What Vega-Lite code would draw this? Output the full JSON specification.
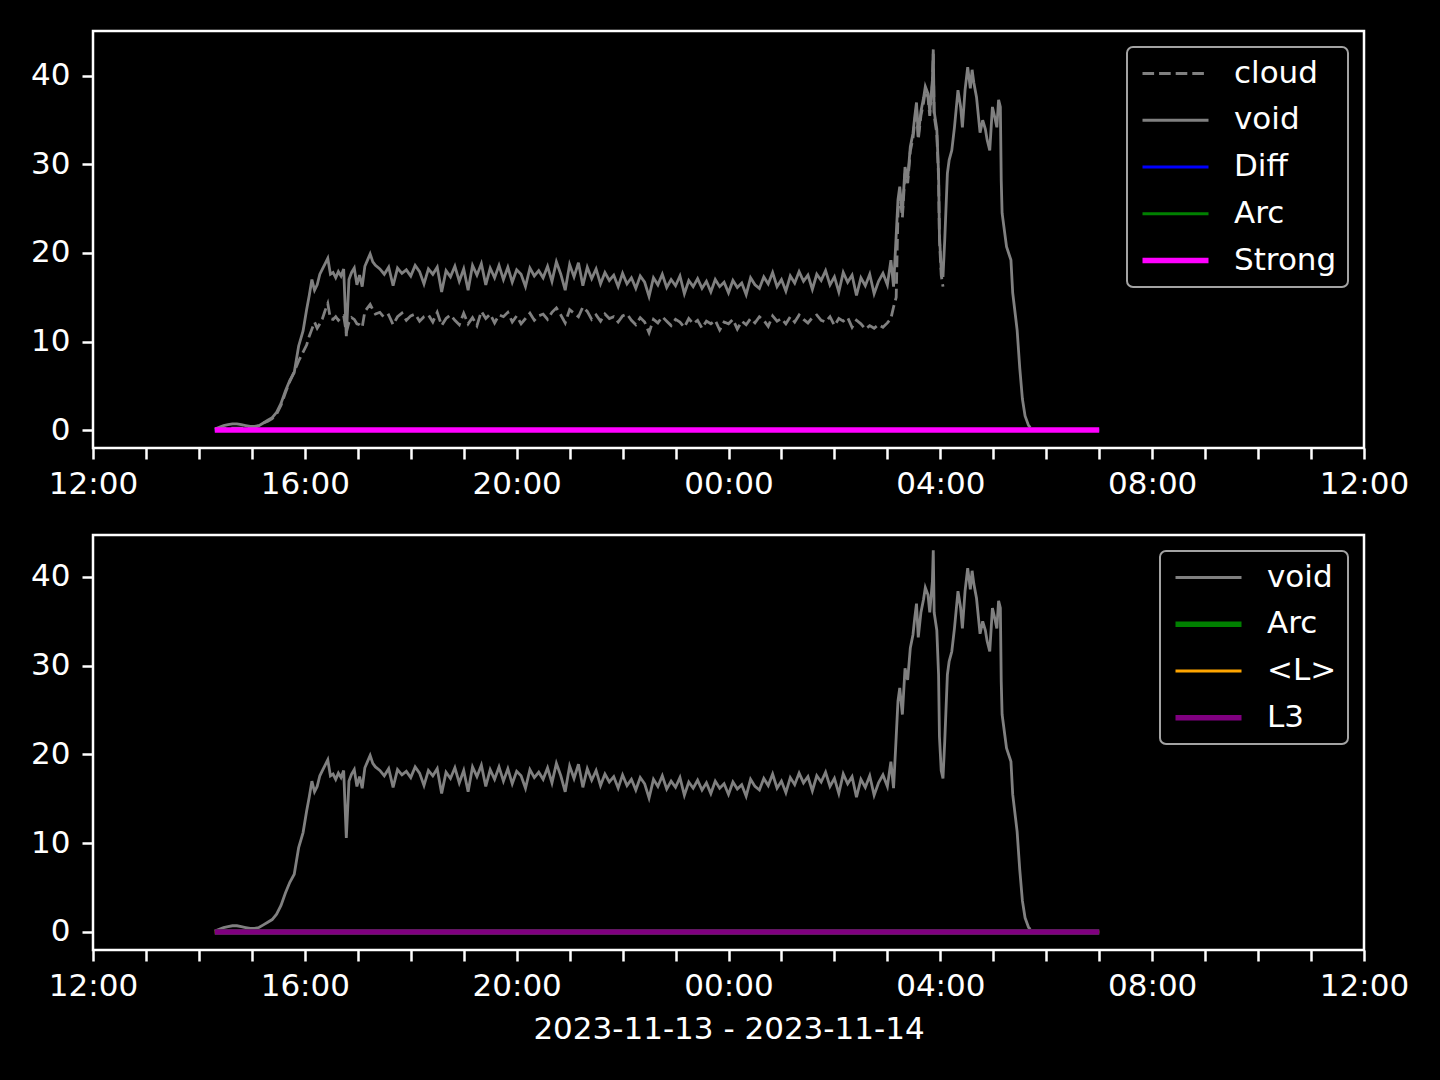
{
  "$schema": "https://vega.github.io/schema/vega-lite/v6.json",
  "background": "black",
  "padding": {"left": 29, "top": 29, "right": 40, "bottom": 45},
  "config": {
    "font": "DejaVu Sans",
    "view": {"stroke": "white", "strokeWidth": 2.5},
    "axis": {
      "domain": false, "grid": false,
      "labelColor": "white", "labelFont": "DejaVu Sans", "labelFontSize": 31,
      "tickColor": "white", "tickWidth": 2.5, "tickSize": 11, "labelPadding": 12,
      "titleColor": "white", "titleFont": "DejaVu Sans", "titleFontSize": 31, "titleFontWeight": "normal"
    },
    "legend": {
      "labelColor": "white", "labelFont": "DejaVu Sans", "labelFontSize": 31,
      "fillColor": "black", "strokeColor": "#a3a3a3", "cornerRadius": 6,
      "padding": 11, "rowPadding": 14.75, "labelOffset": 65,
      "symbolType": "M-1,0H5", "symbolSize": 484, "orient": "top-right", "offset": 16
    }
  },
  "datasets": {
    "main": [
      {"t":"2023-11-13T14:18","void":0.1,"cloud":0.05},
      {"t":"2023-11-13T14:23","void":0.3,"cloud":0.1},
      {"t":"2023-11-13T14:28","void":0.5,"cloud":0.15},
      {"t":"2023-11-13T14:33","void":0.6,"cloud":0.2},
      {"t":"2023-11-13T14:38","void":0.7,"cloud":0.2},
      {"t":"2023-11-13T14:43","void":0.7,"cloud":0.2},
      {"t":"2023-11-13T14:48","void":0.6,"cloud":0.2},
      {"t":"2023-11-13T14:53","void":0.5,"cloud":0.2},
      {"t":"2023-11-13T14:58","void":0.4,"cloud":0.2},
      {"t":"2023-11-13T15:03","void":0.4,"cloud":0.3},
      {"t":"2023-11-13T15:08","void":0.5,"cloud":0.5},
      {"t":"2023-11-13T15:13","void":0.8,"cloud":0.8},
      {"t":"2023-11-13T15:18","void":1.1,"cloud":1.0},
      {"t":"2023-11-13T15:23","void":1.4,"cloud":1.3},
      {"t":"2023-11-13T15:28","void":2.0,"cloud":1.8},
      {"t":"2023-11-13T15:33","void":3.0,"cloud":2.8},
      {"t":"2023-11-13T15:38","void":4.4,"cloud":4.2},
      {"t":"2023-11-13T15:43","void":5.6,"cloud":5.5},
      {"t":"2023-11-13T15:48","void":6.5,"cloud":6.6},
      {"t":"2023-11-13T15:53","void":9.5,"cloud":7.8},
      {"t":"2023-11-13T15:58","void":11.2,"cloud":8.8},
      {"t":"2023-11-13T16:02","void":13.6,"cloud":9.6},
      {"t":"2023-11-13T16:05","void":15.2,"cloud":10.6},
      {"t":"2023-11-13T16:08","void":17.0,"cloud":11.4},
      {"t":"2023-11-13T16:11","void":15.8,"cloud":12.2},
      {"t":"2023-11-13T16:14","void":16.4,"cloud":11.5},
      {"t":"2023-11-13T16:17","void":17.6,"cloud":12.0},
      {"t":"2023-11-13T16:20","void":18.2,"cloud":12.6},
      {"t":"2023-11-13T16:23","void":18.8,"cloud":13.5},
      {"t":"2023-11-13T16:26","void":19.4,"cloud":14.3},
      {"t":"2023-11-13T16:29","void":17.6,"cloud":12.6},
      {"t":"2023-11-13T16:32","void":17.8,"cloud":12.5},
      {"t":"2023-11-13T16:35","void":17.2,"cloud":12.8},
      {"t":"2023-11-13T16:38","void":17.9,"cloud":12.4},
      {"t":"2023-11-13T16:41","void":17.4,"cloud":12.7},
      {"t":"2023-11-13T16:44","void":18.2,"cloud":12.9},
      {"t":"2023-11-13T16:47","void":10.6,"cloud":11.0},
      {"t":"2023-11-13T16:50","void":17.0,"cloud":12.2},
      {"t":"2023-11-13T16:53","void":17.8,"cloud":12.7},
      {"t":"2023-11-13T16:56","void":18.3,"cloud":12.5},
      {"t":"2023-11-13T16:59","void":16.4,"cloud":12.0},
      {"t":"2023-11-13T17:02","void":17.5,"cloud":11.9},
      {"t":"2023-11-13T17:05","void":16.2,"cloud":11.6},
      {"t":"2023-11-13T17:08","void":18.5,"cloud":13.4},
      {"t":"2023-11-13T17:11","void":19.2,"cloud":13.8},
      {"t":"2023-11-13T17:14","void":19.9,"cloud":14.2},
      {"t":"2023-11-13T17:17","void":19.0,"cloud":13.6},
      {"t":"2023-11-13T17:20","void":18.6,"cloud":13.1},
      {"t":"2023-11-13T17:25","void":18.2,"cloud":13.3},
      {"t":"2023-11-13T17:30","void":17.6,"cloud":12.7},
      {"t":"2023-11-13T17:35","void":18.4,"cloud":13.0},
      {"t":"2023-11-13T17:40","void":16.3,"cloud":11.9},
      {"t":"2023-11-13T17:45","void":18.3,"cloud":12.8},
      {"t":"2023-11-13T17:50","void":17.7,"cloud":13.2},
      {"t":"2023-11-13T17:55","void":18.1,"cloud":12.4},
      {"t":"2023-11-13T18:00","void":17.4,"cloud":12.9},
      {"t":"2023-11-13T18:05","void":18.6,"cloud":13.1},
      {"t":"2023-11-13T18:10","void":17.9,"cloud":12.3},
      {"t":"2023-11-13T18:15","void":16.5,"cloud":12.8},
      {"t":"2023-11-13T18:20","void":18.2,"cloud":13.0},
      {"t":"2023-11-13T18:25","void":17.6,"cloud":12.2},
      {"t":"2023-11-13T18:30","void":18.4,"cloud":13.3},
      {"t":"2023-11-13T18:35","void":15.6,"cloud":11.8},
      {"t":"2023-11-13T18:40","void":18.0,"cloud":12.6},
      {"t":"2023-11-13T18:45","void":17.3,"cloud":13.0},
      {"t":"2023-11-13T18:50","void":18.5,"cloud":12.4},
      {"t":"2023-11-13T18:55","void":16.8,"cloud":11.9},
      {"t":"2023-11-13T19:00","void":18.2,"cloud":13.2},
      {"t":"2023-11-13T19:05","void":15.8,"cloud":12.0},
      {"t":"2023-11-13T19:10","void":18.6,"cloud":12.7},
      {"t":"2023-11-13T19:15","void":17.5,"cloud":11.8},
      {"t":"2023-11-13T19:20","void":18.8,"cloud":13.4},
      {"t":"2023-11-13T19:25","void":16.4,"cloud":12.6},
      {"t":"2023-11-13T19:30","void":18.3,"cloud":13.1},
      {"t":"2023-11-13T19:35","void":17.2,"cloud":12.1},
      {"t":"2023-11-13T19:40","void":18.6,"cloud":13.0},
      {"t":"2023-11-13T19:45","void":17.0,"cloud":12.8},
      {"t":"2023-11-13T19:50","void":18.4,"cloud":13.3},
      {"t":"2023-11-13T19:55","void":16.7,"cloud":12.2},
      {"t":"2023-11-13T20:00","void":18.1,"cloud":12.9},
      {"t":"2023-11-13T20:05","void":17.6,"cloud":12.0},
      {"t":"2023-11-13T20:10","void":16.2,"cloud":12.6},
      {"t":"2023-11-13T20:15","void":18.3,"cloud":13.2},
      {"t":"2023-11-13T20:20","void":17.4,"cloud":12.4},
      {"t":"2023-11-13T20:25","void":18.0,"cloud":12.9},
      {"t":"2023-11-13T20:30","void":17.2,"cloud":13.1},
      {"t":"2023-11-13T20:35","void":18.5,"cloud":12.5},
      {"t":"2023-11-13T20:40","void":16.8,"cloud":13.3},
      {"t":"2023-11-13T20:45","void":19.0,"cloud":13.8},
      {"t":"2023-11-13T20:50","void":17.6,"cloud":13.0},
      {"t":"2023-11-13T20:55","void":15.8,"cloud":12.1},
      {"t":"2023-11-13T21:00","void":18.7,"cloud":13.6},
      {"t":"2023-11-13T21:05","void":17.3,"cloud":13.2},
      {"t":"2023-11-13T21:10","void":18.9,"cloud":12.8},
      {"t":"2023-11-13T21:15","void":16.3,"cloud":13.9},
      {"t":"2023-11-13T21:20","void":18.4,"cloud":13.4},
      {"t":"2023-11-13T21:25","void":17.1,"cloud":12.5},
      {"t":"2023-11-13T21:30","void":18.2,"cloud":13.0},
      {"t":"2023-11-13T21:35","void":16.5,"cloud":12.3},
      {"t":"2023-11-13T21:40","void":17.8,"cloud":13.1},
      {"t":"2023-11-13T21:45","void":16.9,"cloud":12.6},
      {"t":"2023-11-13T21:50","void":17.5,"cloud":12.8},
      {"t":"2023-11-13T21:55","void":16.2,"cloud":12.2},
      {"t":"2023-11-13T22:00","void":17.7,"cloud":12.9},
      {"t":"2023-11-13T22:05","void":16.5,"cloud":13.1},
      {"t":"2023-11-13T22:10","void":17.2,"cloud":12.4},
      {"t":"2023-11-13T22:15","void":16.0,"cloud":11.9},
      {"t":"2023-11-13T22:20","void":17.4,"cloud":12.7},
      {"t":"2023-11-13T22:25","void":16.7,"cloud":12.2},
      {"t":"2023-11-13T22:30","void":15.1,"cloud":11.0},
      {"t":"2023-11-13T22:35","void":17.2,"cloud":12.5},
      {"t":"2023-11-13T22:40","void":16.4,"cloud":12.1},
      {"t":"2023-11-13T22:45","void":17.6,"cloud":12.8},
      {"t":"2023-11-13T22:50","void":16.1,"cloud":12.3},
      {"t":"2023-11-13T22:55","void":17.0,"cloud":11.8},
      {"t":"2023-11-13T23:00","void":16.3,"cloud":12.5},
      {"t":"2023-11-13T23:05","void":17.4,"cloud":12.2},
      {"t":"2023-11-13T23:10","void":15.4,"cloud":11.6},
      {"t":"2023-11-13T23:15","void":16.9,"cloud":12.6},
      {"t":"2023-11-13T23:20","void":16.2,"cloud":12.0},
      {"t":"2023-11-13T23:25","void":17.1,"cloud":12.4},
      {"t":"2023-11-13T23:30","void":16.0,"cloud":11.5},
      {"t":"2023-11-13T23:35","void":16.8,"cloud":12.3},
      {"t":"2023-11-13T23:40","void":15.6,"cloud":12.0},
      {"t":"2023-11-13T23:45","void":17.0,"cloud":12.4},
      {"t":"2023-11-13T23:50","void":16.2,"cloud":11.3},
      {"t":"2023-11-13T23:55","void":16.7,"cloud":12.2},
      {"t":"2023-11-14T00:00","void":15.5,"cloud":12.0},
      {"t":"2023-11-14T00:05","void":16.9,"cloud":12.5},
      {"t":"2023-11-14T00:10","void":16.1,"cloud":11.4},
      {"t":"2023-11-14T00:15","void":16.6,"cloud":12.3},
      {"t":"2023-11-14T00:20","void":15.3,"cloud":11.9},
      {"t":"2023-11-14T00:25","void":17.2,"cloud":12.6},
      {"t":"2023-11-14T00:30","void":16.4,"cloud":12.1},
      {"t":"2023-11-14T00:35","void":16.0,"cloud":12.8},
      {"t":"2023-11-14T00:40","void":17.3,"cloud":12.4},
      {"t":"2023-11-14T00:45","void":16.5,"cloud":11.7},
      {"t":"2023-11-14T00:50","void":17.8,"cloud":12.9},
      {"t":"2023-11-14T00:55","void":16.2,"cloud":12.3},
      {"t":"2023-11-14T01:00","void":17.0,"cloud":12.6},
      {"t":"2023-11-14T01:05","void":15.7,"cloud":12.0},
      {"t":"2023-11-14T01:10","void":17.4,"cloud":12.8},
      {"t":"2023-11-14T01:15","void":16.6,"cloud":12.2},
      {"t":"2023-11-14T01:20","void":17.9,"cloud":13.0},
      {"t":"2023-11-14T01:25","void":16.8,"cloud":12.5},
      {"t":"2023-11-14T01:30","void":17.5,"cloud":12.1},
      {"t":"2023-11-14T01:35","void":15.9,"cloud":12.7},
      {"t":"2023-11-14T01:40","void":17.6,"cloud":13.0},
      {"t":"2023-11-14T01:45","void":16.9,"cloud":12.4},
      {"t":"2023-11-14T01:50","void":18.0,"cloud":12.2},
      {"t":"2023-11-14T01:55","void":16.4,"cloud":12.8},
      {"t":"2023-11-14T02:00","void":17.3,"cloud":11.8},
      {"t":"2023-11-14T02:05","void":15.6,"cloud":12.6},
      {"t":"2023-11-14T02:10","void":17.8,"cloud":12.3},
      {"t":"2023-11-14T02:15","void":16.7,"cloud":12.7},
      {"t":"2023-11-14T02:20","void":17.5,"cloud":11.6},
      {"t":"2023-11-14T02:25","void":15.2,"cloud":12.4},
      {"t":"2023-11-14T02:30","void":17.2,"cloud":12.0},
      {"t":"2023-11-14T02:35","void":16.3,"cloud":11.4},
      {"t":"2023-11-14T02:40","void":17.6,"cloud":11.8},
      {"t":"2023-11-14T02:45","void":15.4,"cloud":11.5},
      {"t":"2023-11-14T02:50","void":16.8,"cloud":11.9},
      {"t":"2023-11-14T02:55","void":17.7,"cloud":11.6},
      {"t":"2023-11-14T03:00","void":16.4,"cloud":12.1},
      {"t":"2023-11-14T03:04","void":19.2,"cloud":12.6},
      {"t":"2023-11-14T03:07","void":16.2,"cloud":13.9},
      {"t":"2023-11-14T03:10","void":22.0,"cloud":15.0},
      {"t":"2023-11-14T03:12","void":26.0,"cloud":24.5},
      {"t":"2023-11-14T03:14","void":27.5,"cloud":26.8},
      {"t":"2023-11-14T03:17","void":24.5,"cloud":24.0},
      {"t":"2023-11-14T03:20","void":29.7,"cloud":29.0},
      {"t":"2023-11-14T03:23","void":28.4,"cloud":27.9},
      {"t":"2023-11-14T03:26","void":32.0,"cloud":31.5},
      {"t":"2023-11-14T03:29","void":33.5,"cloud":33.0},
      {"t":"2023-11-14T03:31","void":35.4,"cloud":34.8},
      {"t":"2023-11-14T03:33","void":37.0,"cloud":36.5},
      {"t":"2023-11-14T03:35","void":33.2,"cloud":32.8},
      {"t":"2023-11-14T03:38","void":36.0,"cloud":35.5},
      {"t":"2023-11-14T03:41","void":37.5,"cloud":37.0},
      {"t":"2023-11-14T03:43","void":38.8,"cloud":38.3},
      {"t":"2023-11-14T03:46","void":38.0,"cloud":37.6},
      {"t":"2023-11-14T03:48","void":36.0,"cloud":35.5},
      {"t":"2023-11-14T03:51","void":39.5,"cloud":39.0},
      {"t":"2023-11-14T03:52","void":43.0,"cloud":42.5},
      {"t":"2023-11-14T03:53","void":36.0,"cloud":35.5},
      {"t":"2023-11-14T03:56","void":34.0,"cloud":33.5},
      {"t":"2023-11-14T03:58","void":29.0,"cloud":28.5},
      {"t":"2023-11-14T03:59","void":22.0,"cloud":21.5},
      {"t":"2023-11-14T04:01","void":18.2,"cloud":17.5},
      {"t":"2023-11-14T04:03","void":17.3,"cloud":16.2},
      {"t":"2023-11-14T04:05","void":21.5,"cloud":null},
      {"t":"2023-11-14T04:08","void":29.0,"cloud":null},
      {"t":"2023-11-14T04:10","void":30.5,"cloud":null},
      {"t":"2023-11-14T04:13","void":31.6,"cloud":null},
      {"t":"2023-11-14T04:16","void":34.2,"cloud":null},
      {"t":"2023-11-14T04:20","void":38.4,"cloud":null},
      {"t":"2023-11-14T04:23","void":36.5,"cloud":null},
      {"t":"2023-11-14T04:25","void":34.2,"cloud":null},
      {"t":"2023-11-14T04:28","void":38.4,"cloud":null},
      {"t":"2023-11-14T04:31","void":41.0,"cloud":null},
      {"t":"2023-11-14T04:34","void":38.6,"cloud":null},
      {"t":"2023-11-14T04:36","void":40.7,"cloud":null},
      {"t":"2023-11-14T04:38","void":39.2,"cloud":null},
      {"t":"2023-11-14T04:41","void":37.6,"cloud":null},
      {"t":"2023-11-14T04:45","void":33.6,"cloud":null},
      {"t":"2023-11-14T04:48","void":35.0,"cloud":null},
      {"t":"2023-11-14T04:51","void":34.0,"cloud":null},
      {"t":"2023-11-14T04:53","void":32.8,"cloud":null},
      {"t":"2023-11-14T04:56","void":31.6,"cloud":null},
      {"t":"2023-11-14T04:59","void":36.5,"cloud":null},
      {"t":"2023-11-14T05:02","void":35.2,"cloud":null},
      {"t":"2023-11-14T05:04","void":34.2,"cloud":null},
      {"t":"2023-11-14T05:06","void":37.3,"cloud":null},
      {"t":"2023-11-14T05:08","void":36.5,"cloud":null},
      {"t":"2023-11-14T05:09","void":28.2,"cloud":null},
      {"t":"2023-11-14T05:10","void":24.5,"cloud":null},
      {"t":"2023-11-14T05:15","void":20.7,"cloud":null},
      {"t":"2023-11-14T05:20","void":19.2,"cloud":null},
      {"t":"2023-11-14T05:22","void":15.5,"cloud":null},
      {"t":"2023-11-14T05:25","void":13.0,"cloud":null},
      {"t":"2023-11-14T05:27","void":11.3,"cloud":null},
      {"t":"2023-11-14T05:30","void":7.0,"cloud":null},
      {"t":"2023-11-14T05:33","void":3.5,"cloud":null},
      {"t":"2023-11-14T05:36","void":1.6,"cloud":null},
      {"t":"2023-11-14T05:40","void":0.5,"cloud":null},
      {"t":"2023-11-14T05:42","void":0.3,"cloud":null}
    ],
    "flat": [
      {"t":"2023-11-13T14:18","diff":0,"arc":0,"strong":0,"lavg":0,"l3":0},
      {"t":"2023-11-13T15:00","diff":0,"arc":0,"strong":0,"lavg":0,"l3":0},
      {"t":"2023-11-13T16:00","diff":0,"arc":0,"strong":0,"lavg":0,"l3":0},
      {"t":"2023-11-13T17:00","diff":0,"arc":0,"strong":0,"lavg":0,"l3":0},
      {"t":"2023-11-13T18:00","diff":0,"arc":0,"strong":0,"lavg":0,"l3":0},
      {"t":"2023-11-13T19:00","diff":0,"arc":0,"strong":0,"lavg":0,"l3":0},
      {"t":"2023-11-13T20:00","diff":0,"arc":0,"strong":0,"lavg":0,"l3":0},
      {"t":"2023-11-13T21:00","diff":0,"arc":0,"strong":0,"lavg":0,"l3":0},
      {"t":"2023-11-13T22:00","diff":0,"arc":0,"strong":0,"lavg":0,"l3":0},
      {"t":"2023-11-13T23:00","diff":0,"arc":0,"strong":0,"lavg":0,"l3":0},
      {"t":"2023-11-14T00:00","diff":0,"arc":0,"strong":0,"lavg":0,"l3":0},
      {"t":"2023-11-14T01:00","diff":0,"arc":0,"strong":0,"lavg":0,"l3":0},
      {"t":"2023-11-14T02:00","diff":0,"arc":0,"strong":0,"lavg":0,"l3":0},
      {"t":"2023-11-14T03:00","diff":0,"arc":0,"strong":0,"lavg":0,"l3":0},
      {"t":"2023-11-14T04:00","diff":0,"arc":0,"strong":0,"lavg":0,"l3":0},
      {"t":"2023-11-14T05:00","diff":0,"arc":0,"strong":0,"lavg":0,"l3":0},
      {"t":"2023-11-14T06:00","diff":0,"arc":0,"strong":0,"lavg":0,"l3":0},
      {"t":"2023-11-14T07:00","diff":0,"arc":0,"strong":0,"lavg":0,"l3":0}
    ]
  },
  "vconcat": [
    {
      "width": 1271, "height": 417,
      "layer": [
        {"data": {"name": "main"}, "mark": {"type": "line", "strokeWidth": 2.8, "strokeDash": [11.6, 5]},
          "encoding": {
            "x": {"field": "t", "type": "temporal",
              "scale": {"domain": ["2023-11-13T12:00", "2023-11-14T12:00"], "nice": false},
              "axis": {"title": null, "tickCount": 24, "labelFlush": false, "labelOverlap": false, "labelPadding": 10.5,
                "labelExpr": "timeFormat(datum.value, '%H') % 4 == 0 ? timeFormat(datum.value, '%H:%M') : ''",
                "encode": {"ticks": {"update": {
                  "y2": {"signal": "timeFormat(datum.value, '%H') % 4 == 0 ? 11 : 6.25"},
                  "strokeWidth": {"signal": "timeFormat(datum.value, '%H') % 4 == 0 ? 2.5 : 1.9"}}}}}},
            "y": {"field": "cloud", "type": "quantitative", "scale": {"domain": [-2.03, 45.08], "nice": false, "zero": false}, "axis": {"title": null, "values": [0, 10, 20, 30, 40]}},
            "color": {"datum": "cloud", "type": "nominal",
              "scale": {"domain": ["cloud", "void", "Diff", "Arc", "Strong"], "range": ["#808080", "#808080", "#0000ff", "#008000", "#ff00ff"]},
              "legend": {"title": null,
                "encode": {
                  "legend": {"update": {"strokeWidth": {"value": 2}}},
                  "symbols": {"update": {
                    "strokeWidth": {"signal": "datum.value === 'Strong' ? 5.6 : 2.8"},
                    "strokeDash": {"signal": "datum.value === 'cloud' ? [11.6, 5] : [1, 0]"}}}}}}
          }},
        {"data": {"name": "main"}, "mark": {"type": "line", "strokeWidth": 2.8},
          "encoding": {"x": {"field": "t", "type": "temporal"}, "y": {"field": "void", "type": "quantitative"}, "color": {"datum": "void", "type": "nominal"}}},
        {"data": {"name": "flat"}, "mark": {"type": "line", "strokeWidth": 2.8},
          "encoding": {"x": {"field": "t", "type": "temporal"}, "y": {"field": "diff", "type": "quantitative"}, "color": {"datum": "Diff", "type": "nominal"}}},
        {"data": {"name": "flat"}, "mark": {"type": "line", "strokeWidth": 2.8},
          "encoding": {"x": {"field": "t", "type": "temporal"}, "y": {"field": "arc", "type": "quantitative"}, "color": {"datum": "Arc", "type": "nominal"}}},
        {"data": {"name": "flat"}, "mark": {"type": "line", "strokeWidth": 5.6},
          "encoding": {"x": {"field": "t", "type": "temporal"}, "y": {"field": "strong", "type": "quantitative"}, "color": {"datum": "Strong", "type": "nominal"}}}
      ]
    },
    {
      "width": 1271, "height": 415,
      "layer": [
        {"data": {"name": "main"}, "mark": {"type": "line", "strokeWidth": 2.8},
          "encoding": {
            "x": {"field": "t", "type": "temporal",
              "scale": {"domain": ["2023-11-13T12:00", "2023-11-14T12:00"], "nice": false},
              "axis": {"title": "2023-11-13 - 2023-11-14", "titlePadding": 13, "tickCount": 24, "labelFlush": false, "labelOverlap": false, "labelPadding": 10.5,
                "labelExpr": "timeFormat(datum.value, '%H') % 4 == 0 ? timeFormat(datum.value, '%H:%M') : ''",
                "encode": {"ticks": {"update": {
                  "y2": {"signal": "timeFormat(datum.value, '%H') % 4 == 0 ? 11 : 6.25"},
                  "strokeWidth": {"signal": "timeFormat(datum.value, '%H') % 4 == 0 ? 2.5 : 1.9"}}}}}},
            "y": {"field": "void", "type": "quantitative", "scale": {"domain": [-2.03, 44.73], "nice": false, "zero": false}, "axis": {"title": null, "values": [0, 10, 20, 30, 40]}},
            "color": {"datum": "void", "type": "nominal",
              "scale": {"domain": ["void", "Arc", "<L>", "L3"], "range": ["#808080", "#008000", "#ffa500", "#800080"]},
              "legend": {"title": null,
                "encode": {
                  "legend": {"update": {"strokeWidth": {"value": 2}}},
                  "symbols": {"update": {
                    "strokeWidth": {"signal": "datum.value === 'Arc' || datum.value === 'L3' ? 5.6 : 2.8"}}}}}}
          }},
        {"data": {"name": "flat"}, "mark": {"type": "line", "strokeWidth": 5.6},
          "encoding": {"x": {"field": "t", "type": "temporal"}, "y": {"field": "arc", "type": "quantitative"}, "color": {"datum": "Arc", "type": "nominal"}}},
        {"data": {"name": "flat"}, "mark": {"type": "line", "strokeWidth": 2.8},
          "encoding": {"x": {"field": "t", "type": "temporal"}, "y": {"field": "lavg", "type": "quantitative"}, "color": {"datum": "<L>", "type": "nominal"}}},
        {"data": {"name": "flat"}, "mark": {"type": "line", "strokeWidth": 5.6},
          "encoding": {"x": {"field": "t", "type": "temporal"}, "y": {"field": "l3", "type": "quantitative"}, "color": {"datum": "L3", "type": "nominal"}}}
      ]
    }
  ],
  "spacing": 32,
  "resolve": {"scale": {"color": "independent"}, "legend": {"color": "independent"}}
}
